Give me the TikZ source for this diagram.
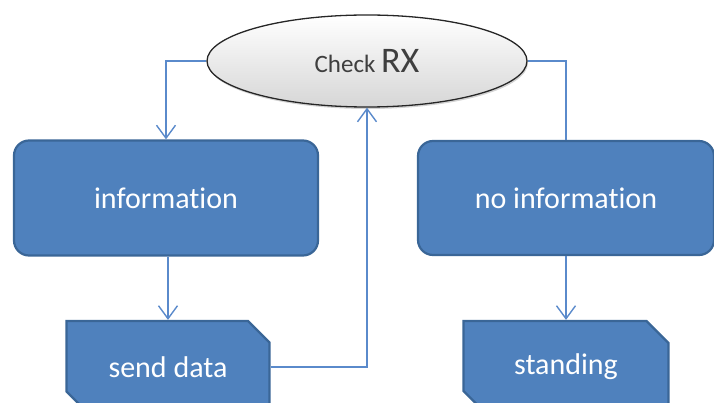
\documentclass[tikz,border=0pt]{standalone}
\usepackage{fontspec}
\setmainfont{Carlito}[Ligatures=NoCommon]
\usepackage{xcolor}
\usepackage{tikz}
\usetikzlibrary{shapes.geometric, shapes.misc, arrows.meta, shadows}

\definecolor{boxblue}{HTML}{4F81BD}
\definecolor{boxedge}{HTML}{3A6697}
\definecolor{flowblue}{HTML}{5A8ACB}
\definecolor{rxgray}{HTML}{3F3F3F}

\tikzset{
    checknode/.style={ellipse, draw=black!85, line width=1.3pt, minimum width=320pt,
        minimum height=92pt, inner sep=0pt, top color=white, bottom color=black!16,
        drop shadow={opacity=0.35, shadow xshift=1pt, shadow yshift=-2pt}, text=rxgray},
    statebox/.style={rectangle, rounded corners=15pt, draw=boxedge, line width=2.2pt,
        fill=boxblue, text=white, font=\fontsize{30}{36}\selectfont, inner sep=0pt},
    actionbox/.style={chamfered rectangle, chamfered rectangle corners={north east, south west},
        chamfered rectangle xsep=11pt, chamfered rectangle ysep=11pt, draw=boxedge,
        line width=2.2pt, fill=boxblue, text=white, font=\fontsize{30}{36}\selectfont,
        inner sep=0pt},
    flow/.style={draw=flowblue, line width=1.4pt},
    flowarrow/.style={flow, -{Straight Barb[length=13pt, width=19pt, line width=1.4pt]}}
}

\begin{document}
\begin{tikzpicture}[x=1pt, y=-1pt]
        \useasboundingbox (0,0) rectangle (714,403);

        \node[checknode] (check) at (367,61) {\fontsize{25}{30}\selectfont Check\ {\fontsize{36}{40}\selectfont RX}};

        \node[statebox, minimum width=304pt, minimum height=115pt] (info) at (166,198) {information};
        \node[statebox, minimum width=296pt, minimum height=114pt] (noinfo) at (566,198) {no information};

        \node[actionbox, minimum width=203pt, minimum height=92pt] (send) at (168,367) {send data};
        \node[actionbox, minimum width=205pt, minimum height=92pt] (standing) at (566,367) {standing};

        % check -> info
        \draw[flowarrow] (check.west) -| (info.north);
        % check -> noinfo
        \draw[flow] (check.east) -| (noinfo.north);

        % info -> send
        \draw[flowarrow] (info.south -| send.north) -- (send.north);
        % noinfo -> standing
        \draw[flowarrow] (noinfo.south) -- (standing.north);

        % send -> check
        \draw[flowarrow] (send.east) -| (check.south);
\end{tikzpicture}
\end{document}
